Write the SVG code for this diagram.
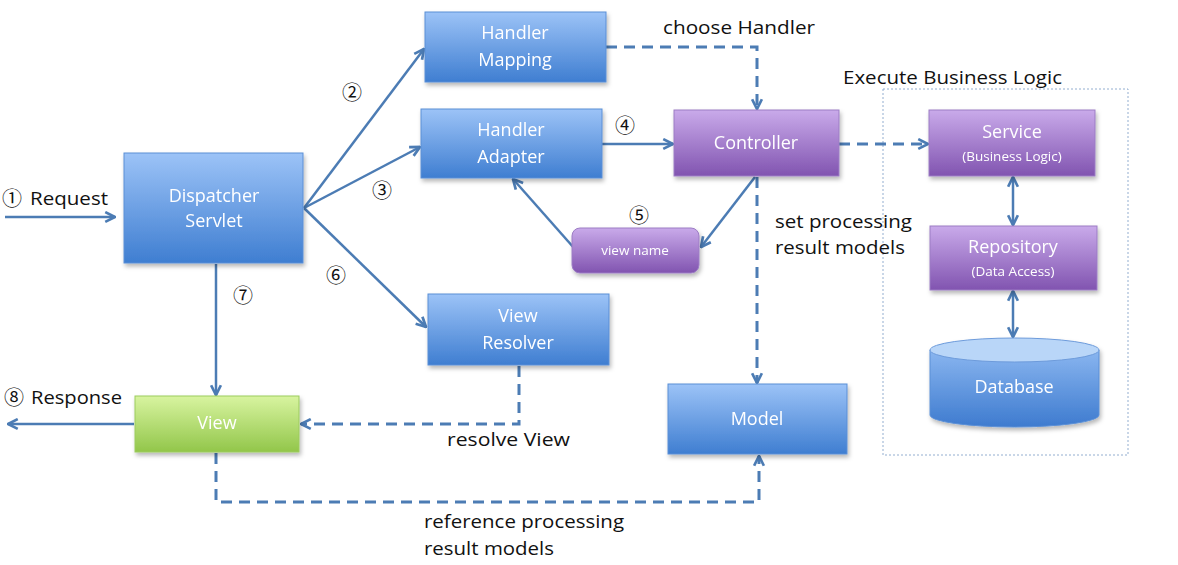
<svg xmlns="http://www.w3.org/2000/svg" width="1178" height="565" viewBox="0 0 1178 565">
<defs>
<linearGradient id="gBlue" x1="0" y1="0" x2="0" y2="1"><stop offset="0" stop-color="#9cc3f7"/><stop offset="1" stop-color="#3f7ed1"/></linearGradient>
<linearGradient id="gPurple" x1="0" y1="0" x2="0" y2="1"><stop offset="0" stop-color="#c9aaea"/><stop offset="1" stop-color="#8154b0"/></linearGradient>
<linearGradient id="gGreen" x1="0" y1="0" x2="0" y2="1"><stop offset="0" stop-color="#d8f4a0"/><stop offset="1" stop-color="#92c64a"/></linearGradient>
<linearGradient id="gDb" x1="0" y1="0" x2="0" y2="1"><stop offset="0" stop-color="#8ab6f0"/><stop offset="1" stop-color="#3e7bcf"/></linearGradient>
<filter id="sh" x="-10%" y="-10%" width="125%" height="135%"><feDropShadow dx="1.5" dy="3" stdDeviation="2" flood-color="#000" flood-opacity="0.28"/></filter>
<marker id="arr" viewBox="0 0 12 12" refX="11" refY="6" markerWidth="13" markerHeight="13" markerUnits="userSpaceOnUse" orient="auto-start-reverse"><path d="M2,1.5 L11,6 L2,10.5" fill="none" stroke="#4c7cb4" stroke-width="2.5" stroke-dasharray="none"/></marker>
</defs>
<style>
.box{filter:url(#sh);}
.bl{fill:url(#gBlue);stroke:#5a8fd6;stroke-width:1;}
.pu{fill:url(#gPurple);stroke:#9c7cc4;stroke-width:1;}
.gr{fill:url(#gGreen);stroke:#9ccb5e;stroke-width:1;}
.wt{font-family:"Open Sans","Liberation Sans",sans-serif;fill:#ffffff;font-size:18px;text-anchor:middle;}
.ws{font-family:"Open Sans","Liberation Sans",sans-serif;fill:#ffffff;font-size:13.5px;text-anchor:middle;}
.lb{font-family:"Open Sans","Liberation Sans",sans-serif;fill:#111111;font-size:18px;}
.num{font-family:"Noto Sans CJK KR","Noto Sans CJK JP","DejaVu Sans",sans-serif;fill:#111111;font-size:20px;}
.ln{fill:none;stroke:#4c7cb4;stroke-width:2.5;}
.da{fill:none;stroke:#4c7cb4;stroke-width:3;stroke-dasharray:11 7;}
</style>
<rect width="1178" height="565" fill="#ffffff"/>

<g id="business-logic-container">
<rect x="883" y="89" width="245" height="366" fill="none" stroke="#93aed0" stroke-width="1" stroke-dasharray="2 2"/>
<text class="lb" x="843" y="84" textLength="219" lengthAdjust="spacingAndGlyphs">Execute Business Logic</text>
</g>

<g id="connectors">
<path class="ln" d="M5,217 L115,217" marker-end="url(#arr)"/>
<path class="ln" d="M304,208 L424,49" marker-end="url(#arr)"/>
<path class="ln" d="M304,208 L420,147" marker-end="url(#arr)"/>
<path class="ln" d="M304,208 L426,327" marker-end="url(#arr)"/>
<path class="ln" d="M602,144 L673,144" marker-end="url(#arr)"/>
<path class="da" d="M606,47 L757,47 L757,109" marker-end="url(#arr)"/>
<path class="ln" d="M755,177 L701,247" marker-end="url(#arr)"/>
<path class="ln" d="M574,248 L513,179" marker-end="url(#arr)"/>
<path class="da" d="M757,177 L757,383" marker-end="url(#arr)"/>
<path class="da" d="M839,144 L928,144" marker-end="url(#arr)"/>
<path class="ln" d="M1013,177 L1013,225" marker-start="url(#arr)" marker-end="url(#arr)"/>
<path class="ln" d="M1013,291 L1013,337" marker-start="url(#arr)" marker-end="url(#arr)"/>
<path class="ln" d="M216,264 L216,395" marker-end="url(#arr)"/>
<path class="ln" d="M134,424 L8,424" marker-end="url(#arr)"/>
<path class="da" d="M519,366 L519,424 L301,424" marker-end="url(#arr)"/>
<path class="da" d="M216,453 L216,502 L759,502 L759,456" marker-end="url(#arr)"/>
</g>

<g id="labels">
<text class="num" x="2" y="206">①</text>
<text class="lb" x="30" y="205" textLength="78" lengthAdjust="spacingAndGlyphs">Request</text>
<text class="num" x="342" y="100">②</text>
<text class="num" x="372" y="198">③</text>
<text class="num" x="615" y="133">④</text>
<text class="num" x="629" y="223">⑤</text>
<text class="num" x="326" y="283">⑥</text>
<text class="num" x="233" y="303">⑦</text>
<text class="num" x="4" y="405">⑧</text>
<text class="lb" x="31" y="404" textLength="91" lengthAdjust="spacingAndGlyphs">Response</text>
<text class="lb" x="663" y="34" textLength="152" lengthAdjust="spacingAndGlyphs">choose Handler</text>
<text class="lb" x="775" y="228" textLength="137" lengthAdjust="spacingAndGlyphs">set processing</text>
<text class="lb" x="775" y="254" textLength="130" lengthAdjust="spacingAndGlyphs">result models</text>
<text class="lb" x="447" y="446" textLength="123" lengthAdjust="spacingAndGlyphs">resolve View</text>
<text class="lb" x="424" y="528" textLength="200" lengthAdjust="spacingAndGlyphs">reference processing</text>
<text class="lb" x="424" y="555" textLength="130" lengthAdjust="spacingAndGlyphs">result models</text>
</g>

<g id="dispatcher-servlet" class="box">
<rect class="bl" x="124" y="153" width="179" height="110"/>
<text class="wt" x="214" y="202">Dispatcher</text>
<text class="wt" x="214" y="227">Servlet</text>
</g>

<g id="handler-mapping" class="box">
<rect class="bl" x="425" y="12" width="181" height="70"/>
<text class="wt" x="515" y="39">Handler</text>
<text class="wt" x="515" y="66">Mapping</text>
</g>

<g id="handler-adapter" class="box">
<rect class="bl" x="421" y="109" width="181" height="69"/>
<text class="wt" x="511" y="136">Handler</text>
<text class="wt" x="511" y="163">Adapter</text>
</g>

<g id="controller" class="box">
<rect class="pu" x="674" y="110" width="165" height="66"/>
<text class="wt" x="756" y="149">Controller</text>
</g>

<g id="view-name" class="box">
<rect class="pu" x="572" y="228" width="127" height="45" rx="8" ry="8"/>
<text class="ws" x="635" y="255">view name</text>
</g>

<g id="service" class="box">
<rect class="pu" x="929" y="110" width="166" height="66"/>
<text class="wt" x="1012" y="138">Service</text>
<text class="ws" x="1012" y="161">(Business Logic)</text>
</g>

<g id="repository" class="box">
<rect class="pu" x="930" y="226" width="167" height="64"/>
<text class="wt" x="1013" y="253">Repository</text>
<text class="ws" x="1013" y="276">(Data Access)</text>
</g>

<g id="database" class="box">
<path d="M930,350 L930,415 A84.5,12 0 0 0 1099,415 L1099,350 Z" fill="url(#gDb)" stroke="#5a8fd6" stroke-width="1"/>
<ellipse cx="1014.5" cy="350" rx="84.5" ry="12" fill="#b9d6f8" stroke="#6d9bdb" stroke-width="1"/>
<text class="wt" x="1014" y="393">Database</text>
</g>

<g id="view-resolver" class="box">
<rect class="bl" x="428" y="294" width="181" height="71"/>
<text class="wt" x="518" y="322">View</text>
<text class="wt" x="518" y="349">Resolver</text>
</g>

<g id="view" class="box">
<rect class="gr" x="135" y="396" width="164" height="56"/>
<text class="wt" x="217" y="429">View</text>
</g>

<g id="model" class="box">
<rect class="bl" x="668" y="384" width="179" height="70"/>
<text class="wt" x="757" y="425">Model</text>
</g>
</svg>
